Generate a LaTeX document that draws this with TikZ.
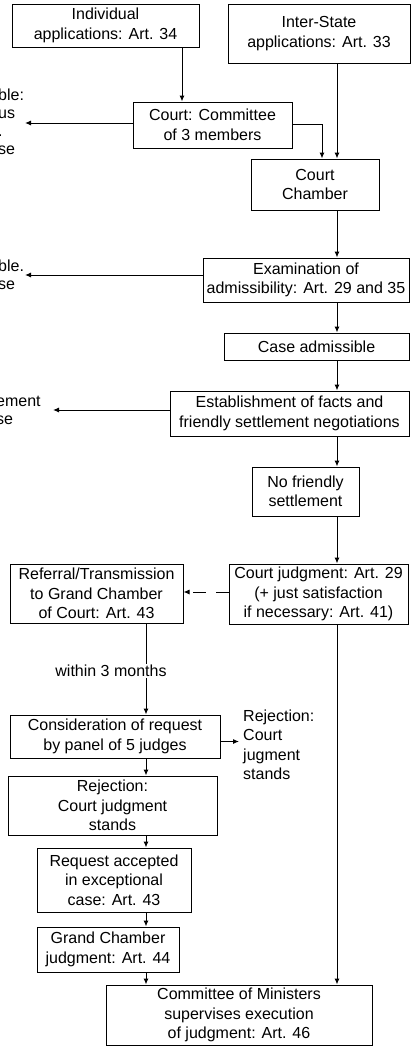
\documentclass[tikz,border=0pt]{standalone}
\usepackage{fontspec}
\setmainfont{Liberation Sans}
\usetikzlibrary{arrows.meta}

\begin{document}
\begin{tikzpicture}
  [x=1pt,y=-1pt,>={Latex[length=6pt,width=5pt]},
   every node/.style={font=\fontsize{16}{19.5}\selectfont},
   box/.style={draw,line width=1pt,align=center,inner sep=1pt},
   frag/.style={align=left,inner sep=0pt,anchor=west,font=\fontsize{16}{18}\selectfont},
   link/.style={->,line width=1pt}]
  \useasboundingbox (0,0) rectangle (412,1047);

  \node[box,minimum width=187pt,minimum height=43pt] (indiv) at (105.5,25.5) {Individual\\applications: Art. 34};
  \node[box,minimum width=182pt,minimum height=59pt] (inter) at (319,33.5) {Inter-State\\applications: Art. 33};
  \node[box,minimum width=159pt,minimum height=46pt] (comm) at (212.5,125) {Court: Committee\\of 3 members};
  \node[box,minimum width=128pt,minimum height=51pt] (chamber) at (315,184.5) {Court\\Chamber};
  \node[box,minimum width=206pt,minimum height=44pt] (exam) at (306,280) {Examination of\\admissibility: Art. 29 and 35};
  \node[box,minimum width=185pt,minimum height=27pt] (admiss) at (316.5,346.5) {Case admissible};
  \node[box,minimum width=239pt,minimum height=45pt] (estab) at (289.5,413.5) {Establishment of facts and\\friendly settlement negotiations};
  \node[box,minimum width=107pt,minimum height=49pt] (nofriend) at (305.5,491.5) {No friendly\\settlement};
  \node[box,minimum width=173pt,minimum height=59pt] (referral) at (96.5,593.5) {Referral/Transmission\\to Grand Chamber\\of Court: Art. 43};
  \node[box,minimum width=179pt,minimum height=60pt] (judg) at (318.5,594) {Court judgment: Art. 29\\(+ just satisfaction\\if necessary: Art. 41)};
  \node[box,minimum width=210pt,minimum height=43pt] (consid) at (115,736.5) {Consideration of request\\by panel of 5 judges};
  \node[box,minimum width=209pt,minimum height=59pt] (rejbox) at (112.5,805.5) {Rejection:\\Court judgment\\stands};
  \node[box,minimum width=154pt,minimum height=64pt] (accepted) at (114,880) {Request accepted\\in exceptional\\case: Art. 43};
  \node[box,minimum width=142pt,minimum height=45pt] (grand) at (108,949.5) {Grand Chamber\\judgment: Art. 44};
  \node[box,minimum width=266pt,minimum height=60pt] (minist) at (239,1015) {Committee of Ministers\\supervises execution\\of judgment: Art. 46};

  % texts cut off at the left edge
  \node[frag] (frag1) at (-2,121.5) {ble:\\us\\.\\se};
  \node[frag] (frag2) at (-2,275) {ble.\\se};
  \node[frag] (frag3) at (-4,410) {ement\\se};
  \node[align=left,inner sep=4pt,anchor=west] (rejtext) at (239,745) {Rejection:\\Court\\jugment\\stands};

  \coordinate (colA) at (182,0);
  \coordinate (colB) at (337,0);
  \coordinate (colC) at (322,0);
  \coordinate (colL) at (146,0);
  \coordinate (out1) at (25,0);
  \coordinate (out2) at (53,0);

  \draw[link] (colA |- indiv.south) -- (colA |- comm.north);
  \draw[link] (colB |- inter.south) -- (colB |- chamber.north);
  \draw[link] ([yshift=1pt]comm.east) -| (colC |- chamber.north);

  \foreach \from/\to in {chamber/exam,exam/admiss,admiss/estab,estab/nofriend,nofriend/judg,judg/minist}
    \draw[link] (colB |- \from.south) -- (colB |- \to.north);

  \foreach \from/\to in {referral/consid,consid/rejbox,rejbox/accepted,accepted/grand,grand/minist}
    \draw[link] (colL |- \from.south) -- (colL |- \to.north);

  \draw[link] ([yshift=2pt]comm.west) -- ([yshift=2pt]comm.west -| out1);
  \draw[link] ([yshift=5pt]exam.west) -- ([yshift=5pt]exam.west -| out1);
  \draw[link] ([yshift=3.5pt]estab.west) -- ([yshift=3.5pt]estab.west -| out2);
  \draw[link,dash pattern=on 13pt off 10pt] ([yshift=2pt]judg.west) -- ([yshift=2pt]judg.west -| referral.east);
  \draw[link] ([yshift=-5pt]consid.east) -- ([yshift=-5pt]consid.east -| rejtext.west);

  \node[fill=white,inner sep=1pt] (within) at (111,671) {within 3 months};

\end{tikzpicture}
\end{document}
